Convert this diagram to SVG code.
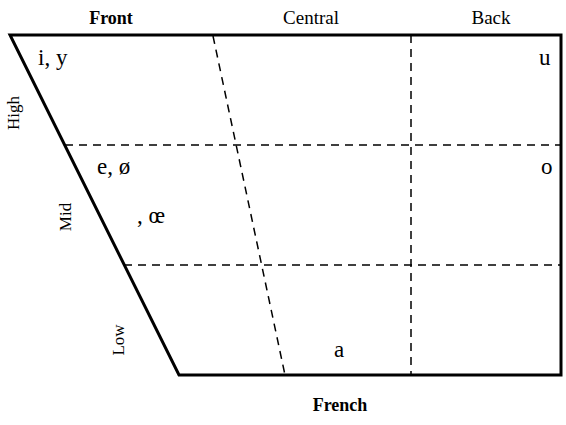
<svg xmlns="http://www.w3.org/2000/svg" width="566" height="425" viewBox="0 0 566 425">
<style>
text{font-family:"Liberation Serif","Times New Roman",serif;fill:#000}
.hd{font-size:19px;text-anchor:middle}
.b{font-weight:bold;font-size:18px}
.v{font-size:23px}
.side{font-size:17px;text-anchor:middle}
.frame{fill:none;stroke:#000;stroke-width:3;stroke-linejoin:miter}
.dash{fill:none;stroke:#000;stroke-width:1.5;stroke-dasharray:8,6}
</style>
<rect width="566" height="425" fill="#fff"/>
<g id="headers">
<text class="hd b" x="111" y="24">Front</text>
<text class="hd" x="311" y="24">Central</text>
<text class="hd" x="491" y="24">Back</text>
</g>
<g id="frame">
<polygon class="frame" points="10,35 561,35 561,375 179,375"/>
</g>
<g id="connectors">
<line class="dash" x1="65" y1="145" x2="561" y2="145"/>
<line class="dash" x1="124" y1="265" x2="561" y2="265"/>
<line class="dash" x1="411" y1="35" x2="411" y2="375"/>
<line class="dash" x1="213" y1="36" x2="285" y2="375"/>
</g>
<g id="side-labels">
<text class="side" transform="translate(19,113) rotate(-90)">High</text>
<text class="side" transform="translate(71,217) rotate(-90)">Mid</text>
<text class="side" transform="translate(124,340) rotate(-90)">Low</text>
</g>
<g id="vowels">
<text class="v" x="38" y="65">i, y</text>
<text class="v" x="539" y="65">u</text>
<text class="v" x="97" y="174">e, ø</text>
<text class="v" x="541" y="174">o</text>
<text class="v" x="137" y="223">, œ</text>
<text class="v" x="334" y="357">a</text>
</g>
<g id="title">
<text class="hd b" x="340" y="411">French</text>
</g>
</svg>
